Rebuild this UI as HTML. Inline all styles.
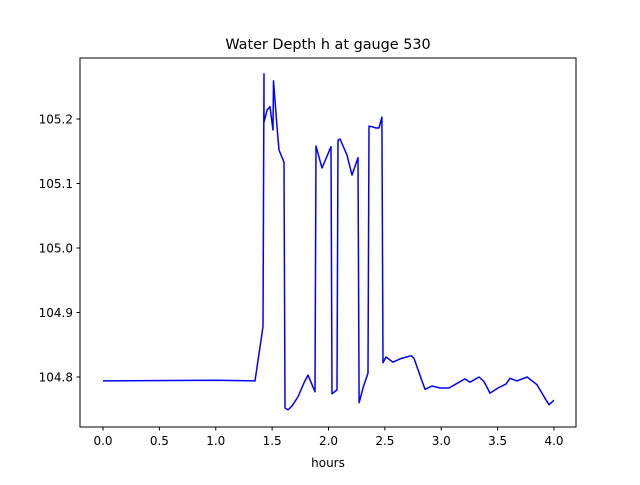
<!DOCTYPE html>
<html><head><meta charset="utf-8"><style>
body{margin:0;background:#fff;}
svg text{font-family:"DejaVu Sans","Liberation Sans",sans-serif;fill:#000;}
</style></head><body>
<svg id="chart" width="640" height="480" xmlns="http://www.w3.org/2000/svg">
<rect width="640" height="480" fill="#fff"/>
<text x="328" y="49" font-size="14.4" text-anchor="middle">Water Depth h at gauge 530</text>
<g id="ticks"></g>
<path id="line" fill="none" stroke="#0000ff" stroke-width="1.5" stroke-linejoin="round"/>
<rect x="80" y="58" width="496" height="369" fill="none" stroke="#000" stroke-width="1"/>
<text x="328" y="467" font-size="12" text-anchor="middle">hours</text>
</svg>
<script>
const hours=[0,0.993,1.348,1.419,1.428,1.428,1.455,1.481,1.508,1.512,1.543,1.561,1.605,1.614,1.641,1.676,1.729,1.783,1.818,1.880,1.889,1.942,2.022,2.031,2.075,2.084,2.102,2.164,2.208,2.262,2.271,2.306,2.350,2.359,2.386,2.421,2.448,2.474,2.483,2.510,2.572,2.634,2.732,2.758,2.811,2.856,2.918,2.989,3.069,3.149,3.211,3.255,3.335,3.379,3.432,3.503,3.574,3.610,3.672,3.761,3.849,3.920,3.956,4.0];
const depth=[104.794,104.795,104.794,104.878,105.270,105.195,105.214,105.219,105.183,105.259,105.188,105.152,105.133,104.752,104.749,104.755,104.769,104.791,104.803,104.777,105.158,105.124,105.157,104.774,104.780,105.167,105.169,105.144,105.113,105.140,104.760,104.783,104.806,105.189,105.188,105.186,105.186,105.203,104.822,104.831,104.823,104.828,104.833,104.829,104.803,104.781,104.786,104.783,104.783,104.791,104.797,104.792,104.800,104.793,104.775,104.783,104.789,104.798,104.794,104.800,104.788,104.767,104.757,104.764];
const xTicks=[0,0.5,1,1.5,2,2.5,3,3.5,4];
const xTickLabels=["0.0","0.5","1.0","1.5","2.0","2.5","3.0","3.5","4.0"];
const yTicks=[104.8,104.9,105.0,105.1,105.2];
const yTickLabels=["104.8","104.9","105.0","105.1","105.2"];
const X=h=>103+h*112.75;
const Y=v=>377-(v-104.8)*645;
const NS="http://www.w3.org/2000/svg";
const g=document.getElementById('ticks');
xTicks.forEach((t,i)=>{
  const l=document.createElementNS(NS,'line');
  
  
  l.setAttribute('x1',X(t));l.setAttribute('x2',X(t));l.setAttribute('y1',427);l.setAttribute('y2',430.5);l.setAttribute('stroke','#000');
  g.appendChild(l);
  const tx=document.createElementNS(NS,'text');
  
  
  tx.setAttribute('x',X(t));tx.setAttribute('y',445);tx.setAttribute('font-size','12');tx.setAttribute('text-anchor','middle');
  tx.textContent=xTickLabels[i];g.appendChild(tx);
});
yTicks.forEach((t,i)=>{
  const l=document.createElementNS(NS,'line');
  
  
  l.setAttribute('x1',76.5);l.setAttribute('x2',80);l.setAttribute('y1',Y(t));l.setAttribute('y2',Y(t));l.setAttribute('stroke','#000');
  g.appendChild(l);
  const tx=document.createElementNS(NS,'text');
  
  
  tx.setAttribute('x',73);tx.setAttribute('y',Y(t)+4.5);tx.setAttribute('font-size','12');tx.setAttribute('text-anchor','end');
  tx.textContent=yTickLabels[i];g.appendChild(tx);
});
document.getElementById('line').setAttribute('d',hours.map((h,i)=>(i?'L':'M')+X(h).toFixed(1)+','+Y(depth[i]).toFixed(1)).join(''));
</script>
</body></html>
